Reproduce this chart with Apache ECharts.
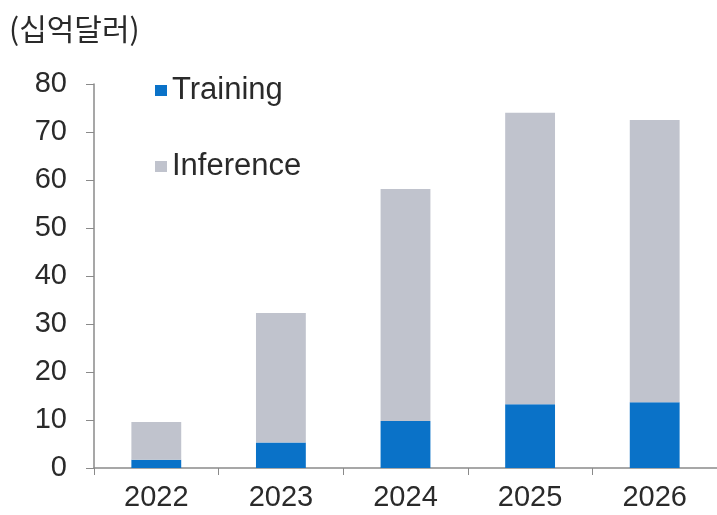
<!DOCTYPE html>
<html>
<head>
<meta charset="utf-8">
<script src="https://cdn.jsdelivr.net/npm/echarts@6/dist/echarts.min.js"></script>
<style>html,body{margin:0;padding:0;background:#fff}#c{width:717px;height:515px}</style>
</head>
<body>
<div id="c"></div>
<script>
const categories = ['2022', '2023', '2024', '2025', '2026'];
const training = [1.7, 5.3, 9.8, 13.3, 13.7];
const inference = [7.9, 27.0, 48.3, 60.7, 58.8];
const yTicks = [0, 10, 20, 30, 40, 50, 60, 70, 80];
const unitLabel = '(십억달러)';

const chart = echarts.init(document.getElementById('c'), null, {renderer: 'canvas'});
const font = '"Liberation Sans", Arial, sans-serif';
const txt = '#2a2a2a';
chart.setOption({
  animation: false,
  title: {
    text: unitLabel, left: 4, top: 9,
    textStyle: {fontFamily: '"Noto Sans CJK KR", sans-serif', fontSize: 30, fontWeight: 'normal', color: txt}
  },
  legend: {
    orient: 'vertical', left: 150, top: 70, itemGap: 45,
    itemWidth: 12, itemHeight: 11, icon: 'rect',
    textStyle: {fontFamily: font, fontSize: 31, color: txt, padding: [0, 0, 0, 0]},
    data: ['Training', 'Inference']
  },
  grid: {left: 94, width: 627, top: 84, bottom: 47, containLabel: false},
  xAxis: {
    type: 'category', data: categories,
    axisLine: {lineStyle: {color: '#8a8a8a', width: 1.5}},
    axisTick: {show: true, alignWithLabel: false, length: 7, lineStyle: {color: '#8a8a8a'}},
    axisLabel: {fontFamily: font, fontSize: 29, color: txt, margin: 15}
  },
  yAxis: {
    type: 'value', min: yTicks[0], max: yTicks[yTicks.length - 1], interval: 10,
    axisLine: {show: true, lineStyle: {color: '#8a8a8a', width: 1.5}},
    axisTick: {show: true, length: 8, lineStyle: {color: '#8a8a8a'}},
    splitLine: {show: false},
    axisLabel: {fontFamily: font, fontSize: 29, color: txt, margin: 27}
  },
  series: [
    {name: 'Training', type: 'bar', stack: 's', data: training, barWidth: '40%',
     itemStyle: {color: '#0a72c8'}},
    {name: 'Inference', type: 'bar', stack: 's', data: inference, barWidth: '40%',
     itemStyle: {color: '#c0c3cd'}}
  ]
});
</script>
</body>
</html>
